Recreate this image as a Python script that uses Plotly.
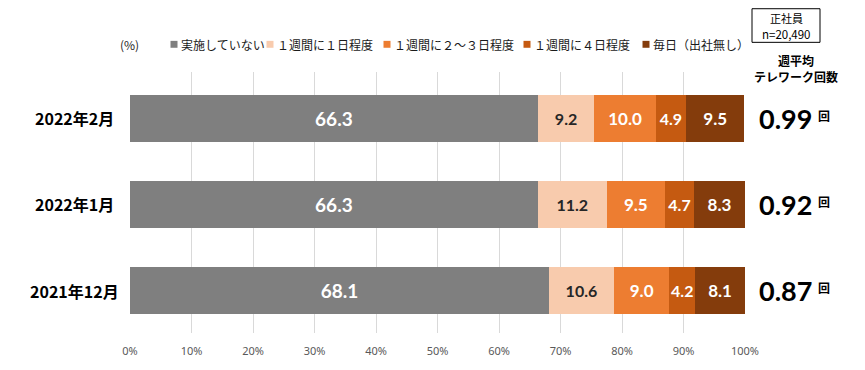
import plotly.graph_objects as go

categories = ["2022年2月", "2022年1月", "2021年12月"]
series_names = ["実施していない", "１週間に１日程度", "１週間に２～３日程度", "１週間に４日程度", "毎日（出社無し）"]
values_none = [66.3, 66.3, 68.1]
values_1day = [9.2, 11.2, 10.6]
values_2_3day = [10.0, 9.5, 9.0]
values_4day = [4.9, 4.7, 4.2]
values_every = [9.5, 8.3, 8.1]
weekly_avg = ["0.99", "0.92", "0.87"]
x_ticks = [0, 10, 20, 30, 40, 50, 60, 70, 80, 90, 100]

colors = ["#7f7f7f", "#f8cbad", "#ed7d31", "#c55a11", "#843c0c"]
text_colors = ["white", "#262626", "white", "white", "white"]
text_sizes = [19, 16, 17, 16, 17]
all_values = [values_none, values_1day, values_2_3day, values_4day, values_every]

# page body has an 8px margin, so compensate
OFF = 8
W, H = 865 - OFF, 370 - OFF
L, R, T, B = 130, 745, 72, 336
pw, ph = R - L, B - T

def px(x):
    return (x - L) / pw

def py(y):
    return (B - y) / ph

fig = go.Figure()
for name, vals, c, tc, ts in zip(series_names, all_values, colors, text_colors, text_sizes):
    fig.add_trace(go.Bar(
        y=categories, x=vals, name=name, orientation="h",
        marker=dict(color=c, line=dict(width=0)),
        text=[f"{v:.1f}" for v in vals], textposition="inside",
        insidetextanchor="middle", textangle=0, constraintext="none",
        textfont=dict(family="Lato, Noto Sans", size=ts, color=tc, weight="bold"),
        showlegend=False, hoverinfo="skip",
    ))

annotations = []
shapes = []

# category labels
for cat in categories:
    annotations.append(dict(xref="paper", yref="y", x=px(74), y=cat, text=f"<b>{cat}</b>",
                            showarrow=False, xanchor="center", yanchor="middle",
                            font=dict(family="Noto Sans CJK JP", size=16, color="black")))

# weekly average labels
for cat, v in zip(categories, weekly_avg):
    annotations.append(dict(xref="paper", yref="y", x=px(785), y=cat, text=f"<b>{v}</b>",
                            showarrow=False, xanchor="center", yanchor="middle",
                            font=dict(family="Lato, Noto Sans", size=27, color="black")))
    annotations.append(dict(xref="paper", yref="y", x=px(824), y=cat, text="<b>回</b>", yshift=3,
                            showarrow=False, xanchor="center", yanchor="middle",
                            font=dict(family="Noto Sans CJK JP", size=12, color="black")))

# legend (manual)
annotations.append(dict(xref="paper", yref="paper", x=px(129), y=py(44), text="(%)", showarrow=False,
                        xanchor="center", yanchor="middle",
                        font=dict(family="Noto Sans CJK JP", size=12, color="#262626")))
legend_x = [174, 270, 387, 527, 646]
for name, c, lx in zip(series_names, colors, legend_x):
    shapes.append(dict(type="rect", xref="paper", yref="paper", x0=px(lx - 3.5), x1=px(lx + 3.5),
                       y0=py(44 + 3.5), y1=py(44 - 3.5), fillcolor=c, line=dict(width=0)))
    annotations.append(dict(xref="paper", yref="paper", x=px(lx + 5), y=py(44), text=name, showarrow=False,
                            xanchor="left", yanchor="middle",
                            font=dict(family="Noto Sans CJK JP", size=12, color="#1a1a1a")))

# box
shapes.append(dict(type="rect", xref="paper", yref="paper", x0=px(752), x1=px(820), y0=py(42), y1=py(8),
                   line=dict(color="black", width=1), fillcolor="white"))
annotations.append(dict(xref="paper", yref="paper", x=px(786), y=py(17), text="正社員",
                        showarrow=False, xanchor="center", yanchor="middle",
                        font=dict(family="Noto Sans CJK JP", size=11, color="black")))
annotations.append(dict(xref="paper", yref="paper", x=px(786), y=py(34), text="n=20,490",
                        showarrow=False, xanchor="center", yanchor="middle",
                        font=dict(family="Noto Sans CJK JP", size=11.5, color="black")))
annotations.append(dict(xref="paper", yref="paper", x=px(796), y=py(60), text="<b>週平均</b>",
                        showarrow=False, xanchor="center", yanchor="middle",
                        font=dict(family="Noto Sans CJK JP", size=12, color="black")))
annotations.append(dict(xref="paper", yref="paper", x=px(796), y=py(77), text="<b>テレワーク回数</b>",
                        showarrow=False, xanchor="center", yanchor="middle",
                        font=dict(family="Noto Sans CJK JP", size=12, color="black")))

fig.update_layout(
    width=W, height=H,
    margin=dict(l=L - OFF, r=W - (R - OFF), t=T - OFF, b=H - (B - OFF)),
    paper_bgcolor="white", plot_bgcolor="white",
    barmode="stack", bargap=0.448,
    showlegend=False,
    annotations=annotations, shapes=shapes,
    xaxis=dict(range=[0, 100], tickvals=x_ticks, ticktext=[f"{t}%" for t in x_ticks],
               showgrid=True, gridcolor="#d9d9d9", gridwidth=1, zeroline=False, showline=False,
               ticks="", ticklabelstandoff=10, fixedrange=True,
               tickfont=dict(family="Noto Sans", size=11, color="#595959")),
    yaxis=dict(type="category", categoryorder="array", categoryarray=categories,
               range=[2.494, -0.54], showticklabels=False, showgrid=False, zeroline=False,
               ticks="", fixedrange=True),
    font=dict(family="Noto Sans CJK JP"),
)

fig.write_html("out.html")
